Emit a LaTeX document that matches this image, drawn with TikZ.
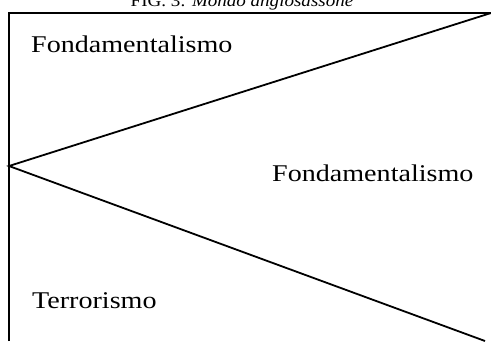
\documentclass[tikz,border=0pt]{standalone}
\usepackage{fontspec}
\setmainfont{Liberation Serif}
\begin{document}
\begin{tikzpicture}[x=1pt,y=-1pt,
  ln/.style={line width=1.8pt,line cap=butt},
  lbl/.style={inner sep=0pt,anchor=base west,font=\fontsize{24}{28}\selectfont}]
\clip (0,0) rectangle (491,341);
\useasboundingbox (0,0) rectangle (491,341);
\coordinate (tl) at (9,13);
\coordinate (tr) at (491,13);
\coordinate (bl) at (9,341);
\coordinate (v) at (9,166);
\coordinate (br) at (485,341);
\draw[ln] (bl) -- (tl) -- (tr);
\draw[ln] (tr) -- (v) -- (br);
\node[inner sep=0pt,anchor=base,font=\fontsize{17}{20}\selectfont] (title) at (242,6)
  {\scalebox{1.12}[1]{FIG. 3: \textit{Mondo anglosassone}}};
\node[lbl] (f1) at (31,52) {\scalebox{1.17}[1]{Fondamentalismo}};
\node[lbl] (f2) at (272,181) {\scalebox{1.17}[1]{Fondamentalismo}};
\node[lbl] (t1) at (32,308) {\scalebox{1.17}[1]{Terrorismo}};
\end{tikzpicture}
\end{document}
